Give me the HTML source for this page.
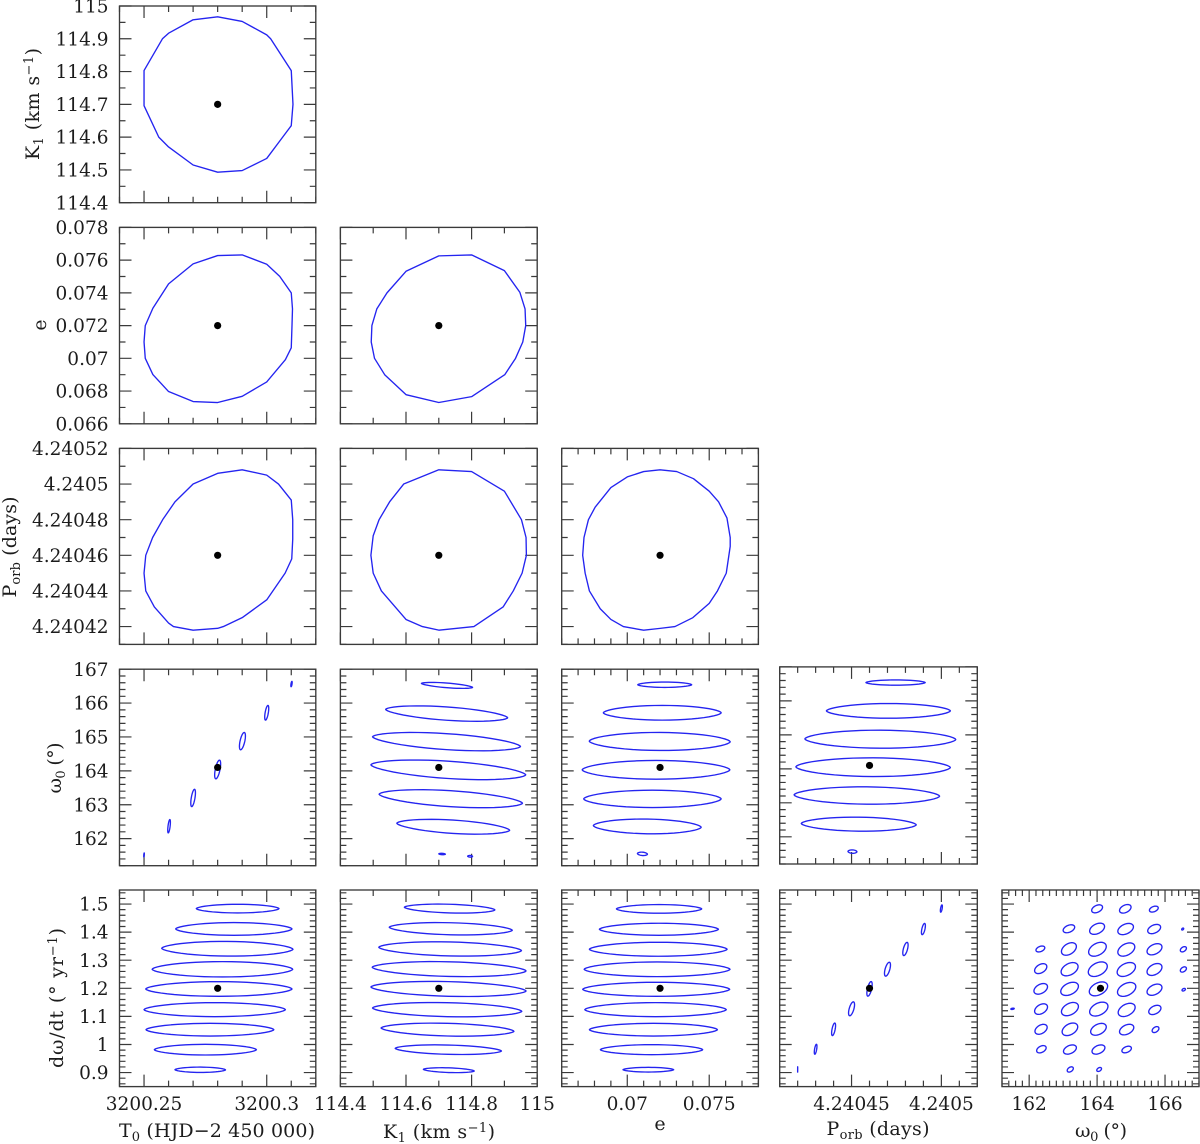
<!DOCTYPE html>
<html lang="en">
<head>
<meta charset="utf-8">
<title>Orbital parameter confidence contours</title>
<style>
html,body{margin:0;padding:0;background:#fff}
svg{display:block}
text{font-family:"DejaVu Serif","Liberation Serif",serif;font-size:18.5px;fill:#1c1c1c}
.title{font-size:19px}
.sub{font-size:13px}
</style>
</head>
<body>
<svg id="chart" width="1200" height="1144" viewBox="0 0 1200 1144" xmlns="http://www.w3.org/2000/svg">
  <g id="panels"></g>
  <text class="title" x="217" y="1137" text-anchor="middle" textLength="196">T<tspan class="sub" dy="4">0</tspan><tspan dy="-4"> (HJD−2 450 000)</tspan></text>
  <text class="title" x="439" y="1138" text-anchor="middle" textLength="112">K<tspan class="sub" dy="4">1</tspan><tspan dy="-4"> (km s</tspan><tspan class="sub" dy="-6">−1</tspan><tspan dy="6">)</tspan></text>
  <text class="title" x="660" y="1130" text-anchor="middle">e</text>
  <text class="title" x="878" y="1135" text-anchor="middle" textLength="103">P<tspan class="sub" dy="4">orb</tspan><tspan dy="-4"> (days)</tspan></text>
  <text class="title" x="1101" y="1137" text-anchor="middle" textLength="52">ω<tspan class="sub" dy="4">0</tspan><tspan dy="-4"> (°)</tspan></text>
  <text class="title" transform="translate(39,104) rotate(-90)" text-anchor="middle" textLength="112">K<tspan class="sub" dy="4">1</tspan><tspan dy="-4"> (km s</tspan><tspan class="sub" dy="-6">−1</tspan><tspan dy="6">)</tspan></text>
  <text class="title" transform="translate(46,325) rotate(-90)" text-anchor="middle">e</text>
  <text class="title" transform="translate(16,547) rotate(-90)" text-anchor="middle" textLength="101">P<tspan class="sub" dy="4">orb</tspan><tspan dy="-4"> (days)</tspan></text>
  <text class="title" transform="translate(61,768) rotate(-90)" text-anchor="middle" textLength="51">ω<tspan class="sub" dy="4">0</tspan><tspan dy="-4"> (°)</tspan></text>
  <text class="title" transform="translate(63,998) rotate(-90)" text-anchor="middle" textLength="140">dω/dt (° yr<tspan class="sub" dy="-6">−1</tspan><tspan dy="6">)</tspan></text>
</svg>
<script>
// Tick labels
const t0TickValues = [3200.25, 3200.3];
const t0TickLabels = ["3200.25", "3200.3"];
const k1XTickValues = [114.4, 114.6, 114.8, 115];
const k1XTickLabels = ["114.4", "114.6", "114.8", "115"];
const eXTickValues = [0.07, 0.075];
const eXTickLabels = ["0.07", "0.075"];
const porbXTickValues = [4.24045, 4.2405];
const porbXTickLabels = ["4.24045", "4.2405"];
const omegaXTickValues = [162, 164, 166];
const omegaXTickLabels = ["162", "164", "166"];
const k1YTickValues = [114.4, 114.5, 114.6, 114.7, 114.8, 114.9, 115];
const k1YTickLabels = ["114.4", "114.5", "114.6", "114.7", "114.8", "114.9", "115"];
const eYTickValues = [0.066, 0.068, 0.07, 0.072, 0.074, 0.076, 0.078];
const eYTickLabels = ["0.066", "0.068", "0.07", "0.072", "0.074", "0.076", "0.078"];
const porbYTickValues = [4.24042, 4.24044, 4.24046, 4.24048, 4.2405, 4.24052];
const porbYTickLabels = ["4.24042", "4.24044", "4.24046", "4.24048", "4.2405", "4.24052"];
const omegaYTickValues = [162, 163, 164, 165, 166, 167];
const omegaYTickLabels = ["162", "163", "164", "165", "166", "167"];
const omegaDotTickValues = [0.9, 1, 1.1, 1.2, 1.3, 1.4, 1.5];
const omegaDotTickLabels = ["0.9", "1", "1.1", "1.2", "1.3", "1.4", "1.5"];

// Best-fit solution values
const bestT0 = 3200.28;
const bestK1 = 114.7;
const bestE = 0.072;
const bestPorb = 4.24046;
const bestOmega = 164.1;
const bestOmegaDot = 1.2;

// Closed contours: [x, y] vertices
const k1VsT0 = [[3200.31,114.803],[3200.3107,114.7],[3200.31,114.635],[3200.3065,114.6],[3200.30,114.535],[3200.29,114.498],[3200.28,114.493],[3200.27,114.515],[3200.26,114.57],[3200.256,114.6],[3200.25,114.696],[3200.25,114.803],[3200.2575,114.9],[3200.26,114.917],[3200.27,114.958],[3200.28,114.967],[3200.29,114.953],[3200.30,114.912],[3200.3016,114.9]];
const eVsT0 = [[3200.31,0.074],[3200.3105,0.07302],[3200.3103,0.072],[3200.31,0.07064],[3200.3076,0.06992],[3200.30,0.06856],[3200.29,0.06768],[3200.28,0.0673],[3200.27,0.06736],[3200.26,0.06797],[3200.2536,0.06901],[3200.2505,0.07],[3200.25,0.071],[3200.2505,0.072],[3200.2536,0.07306],[3200.26,0.07455],[3200.27,0.07577],[3200.28,0.07628],[3200.29,0.07632],[3200.30,0.07575],[3200.3053,0.07501]];
const eVsK1 = [[114.7,0.07626],[114.8,0.07632],[114.9,0.07536],[114.947,0.07404],[114.963,0.07302],[114.965,0.072],[114.956,0.071],[114.934,0.07],[114.901,0.069],[114.8,0.06766],[114.7,0.0673],[114.6,0.06778],[114.535,0.069],[114.504,0.07],[114.494,0.071],[114.496,0.072],[114.511,0.07302],[114.542,0.074],[114.6,0.07532]];
const porbVsT0 = [[3200.28,4.240506],[3200.29,4.240508],[3200.30,4.240505],[3200.3048,4.2405],[3200.31,4.240491],[3200.3106,4.24048],[3200.3106,4.240469],[3200.3102,4.240458],[3200.3075,4.24045],[3200.30,4.240435],[3200.29,4.240425],[3200.2823,4.24042],[3200.28,4.240419],[3200.27,4.240418],[3200.262,4.24042],[3200.26,4.240422],[3200.2542,4.240431],[3200.2507,4.24044],[3200.25,4.24045],[3200.2507,4.24046],[3200.2535,4.24047],[3200.2576,4.24048],[3200.2626,4.24049],[3200.27,4.2405]];
const porbVsK1 = [[114.7,4.240508],[114.8,4.240507],[114.9,4.240496],[114.952,4.24048],[114.966,4.24047],[114.967,4.24046],[114.954,4.24045],[114.927,4.24044],[114.896,4.240431],[114.807,4.24042],[114.7,4.240418],[114.65,4.24042],[114.6,4.240424],[114.525,4.24044],[114.5,4.24045],[114.493,4.24046],[114.5,4.240471],[114.518,4.24048],[114.55,4.24049],[114.593,4.2405]];
const porbVsE = [[0.072,4.240508],[0.07302,4.240507],[0.07404,4.240503],[0.075,4.240496],[0.07557,4.24049],[0.07608,4.240481],[0.07628,4.24047],[0.07628,4.240465],[0.07604,4.24045],[0.0755,4.24044],[0.075,4.240433],[0.074,4.240425],[0.07291,4.24042],[0.072,4.240419],[0.071,4.240418],[0.06976,4.24042],[0.069,4.240424],[0.06835,4.24043],[0.06769,4.24044],[0.06743,4.24045],[0.06728,4.24046],[0.06736,4.24047],[0.06763,4.24048],[0.06804,4.240487],[0.069,4.240498],[0.07,4.240504],[0.071,4.240507]];

// Stripe contours: [xLeft, yLeft, xRight, yRight, halfThicknessY]
const omegaVsK1 = [[114.647,166.581,114.803,166.463,0.069],[114.538,165.813,114.91,165.567,0.197],[114.498,165.005,114.949,164.719,0.236],[114.493,164.177,114.965,163.882,0.256],[114.518,163.31,114.955,163.044,0.236],[114.572,162.453,114.916,162.246,0.197],[114.7,161.55,114.72,161.54,0.02],[114.788,161.48,114.803,161.475,0.025]];
const omegaVsE = [[0.07064,166.542,0.07393,166.542,0.079],[0.06854,165.714,0.07573,165.714,0.217],[0.06768,164.877,0.07628,164.857,0.266],[0.06725,164.03,0.07626,164.03,0.276],[0.06734,163.172,0.07573,163.172,0.256],[0.06793,162.384,0.07451,162.335,0.217],[0.07062,161.56,0.07123,161.54,0.05]];
const omegaVsPorb = [[4.240458,166.539,4.240491,166.539,0.078],[4.240436,165.706,4.240505,165.706,0.216],[4.240424,164.882,4.240508,164.863,0.265],[4.240419,164.059,4.240505,164.039,0.275],[4.240418,163.235,4.240499,163.196,0.255],[4.240422,162.392,4.240486,162.353,0.206],[4.240448,161.57,4.240453,161.56,0.05]];
const omegaDotVsT0 = [[3200.2713,1.4838,3200.305,1.4838,0.0154],[3200.2629,1.4114,3200.3103,1.4114,0.0226],[3200.2572,1.3425,3200.3107,1.339,0.0261],[3200.2533,1.2677,3200.3106,1.2677,0.0273],[3200.2507,1.1976,3200.3103,1.1976,0.0261],[3200.25,1.124,3200.3076,1.124,0.0249],[3200.2508,1.0527,3200.3029,1.0527,0.0226],[3200.2542,0.9815,3200.2958,0.9815,0.019],[3200.2626,0.9102,3200.2832,0.9096,0.0095]];
const omegaDotVsK1 = [[114.595,1.4886,114.871,1.4791,0.0154],[114.549,1.4173,114.924,1.4067,0.0214],[114.517,1.3461,114.952,1.3342,0.0249],[114.497,1.2748,114.966,1.2618,0.0261],[114.493,1.2048,114.966,1.1905,0.0261],[114.498,1.1299,114.953,1.118,0.0249],[114.524,1.0587,114.929,1.0468,0.0226],[114.567,0.9862,114.891,0.9767,0.0166],[114.653,0.9114,114.808,0.9055,0.0083]];
const omegaDotVsE = [[0.06934,1.4827,0.07454,1.4827,0.0154],[0.0683,1.4102,0.07556,1.4102,0.0214],[0.06769,1.339,0.07609,1.339,0.0249],[0.06737,1.2677,0.07627,1.2677,0.0261],[0.06728,1.1964,0.07625,1.1964,0.025],[0.06741,1.124,0.07604,1.124,0.025],[0.06769,1.0527,0.0755,1.0527,0.0226],[0.06836,0.9815,0.0746,0.9815,0.0178],[0.06974,0.9102,0.07283,0.9102,0.0083]];

// Tilted ellipse contours: [centerX, centerY, halfWidthX, halfHeightY]
const omegaVsT0 = [[3200.25,161.517,0.00012,0.06],[3200.2602,162.365,0.00054,0.197],[3200.27,163.2,0.00095,0.256],[3200.28,164.04,0.00122,0.276],[3200.2901,164.877,0.00122,0.256],[3200.30,165.714,0.00082,0.217],[3200.3101,166.562,0.00027,0.079]];
const omegaDotVsPorb = [[4.24042,0.911,0.000000015,0.0094],[4.24043,0.983,0.00000074,0.0177],[4.24044,1.054,0.0000011,0.0224],[4.24045,1.127,0.00000167,0.0248],[4.24046,1.198,0.00000148,0.026],[4.24047,1.268,0.00000167,0.0248],[4.24048,1.34,0.00000148,0.0236],[4.24049,1.411,0.0000011,0.02],[4.2405,1.484,0.00000056,0.013]];
const omegaDotVsOmega = [
[164,1.483,0.16,0.0142],[164.83,1.483,0.17,0.0153],[165.67,1.482,0.13,0.0106],
[163.17,1.412,0.17,0.0142],[164,1.412,0.22,0.02],[164.84,1.411,0.23,0.02],[165.68,1.411,0.19,0.0165],[166.52,1.411,0.03,0.0035],
[162.33,1.34,0.13,0.0106],[163.17,1.34,0.22,0.0224],[164.01,1.339,0.26,0.0248],[164.86,1.338,0.25,0.0236],[165.69,1.339,0.22,0.02],[166.54,1.339,0.09,0.0094],
[162.34,1.27,0.18,0.0177],[163.19,1.268,0.25,0.0236],[164.02,1.268,0.28,0.026],[164.86,1.267,0.27,0.0248],[165.69,1.267,0.22,0.0212],[166.54,1.267,0.09,0.0094],
[162.34,1.198,0.2,0.0189],[163.19,1.198,0.26,0.0236],[164.04,1.198,0.27,0.0248],[164.87,1.196,0.27,0.0248],[165.69,1.195,0.22,0.02],[166.55,1.195,0.05,0.0047],
[162.35,1.126,0.19,0.0189],[163.2,1.126,0.25,0.0236],[164.05,1.126,0.27,0.0248],[164.87,1.123,0.25,0.0236],[165.7,1.123,0.18,0.0165],
[162.35,1.054,0.18,0.0177],[163.2,1.054,0.23,0.0224],[164.04,1.054,0.23,0.0212],[164.87,1.053,0.21,0.0189],[165.72,1.053,0.1,0.0106],
[162.36,0.983,0.14,0.013],[163.2,0.982,0.19,0.0165],[164.04,0.982,0.19,0.0165],[164.87,0.982,0.14,0.0118],
[163.21,0.911,0.09,0.0094],[164.06,0.911,0.07,0.0071],
[161.51,1.127,0.05,0.0024]];

const NS = 'http://www.w3.org/2000/svg';
const BLUE = '#2424f0';
const AXIS = '#3a3a3a';
const panelsRoot = document.getElementById('panels');

// Pixel frames
const colFrames = [[119.5,315.8],[340.4,537.2],[561.7,758.4],[779.7,977.3],[1002,1199]];
const rowFrames = [[6,202.7],[227.4,423.8],[448.4,644.4],[669.2,865.7],[890,1086.6]];
const rowFrameCol3Row3 = [666.9,864];

const xScales = [
 {name:'t0',lo:3200.24,hi:3200.32,minor:0.01,major:0.05,values:t0TickValues,labels:t0TickLabels},
 {name:'k1',lo:114.4,hi:115,minor:0.1,major:0.2,values:k1XTickValues,labels:k1XTickLabels},
 {name:'e',lo:0.066,hi:0.078,minor:0.001,major:0.005,values:eXTickValues,labels:eXTickLabels},
 {name:'porb',lo:4.24041,hi:4.24052,minor:0.00001,major:0.00005,values:porbXTickValues,labels:porbXTickLabels},
 {name:'omega',lo:161.2,hi:167,minor:0.2,major:2,values:omegaXTickValues,labels:omegaXTickLabels}
];
const yScales = [
 {name:'k1',lo:114.4,hi:115,minor:0.05,major:0.1,values:k1YTickValues,labels:k1YTickLabels},
 {name:'e',lo:0.066,hi:0.078,minor:0.001,major:0.002,values:eYTickValues,labels:eYTickLabels},
 {name:'porb',lo:4.24041,hi:4.24052,minor:0.00001,major:0.00002,values:porbYTickValues,labels:porbYTickLabels},
 {name:'omega',lo:161.2,hi:167,minor:0.2,major:1,values:omegaYTickValues,labels:omegaYTickLabels},
 {name:'omega-dot',lo:0.85,hi:1.55,minor:0.02,major:0.1,values:omegaDotTickValues,labels:omegaDotTickLabels}
];

const panelDefs = [
 {c:0,r:0,poly:k1VsT0,pt:[bestT0,bestK1]},
 {c:0,r:1,poly:eVsT0,pt:[bestT0,bestE]},
 {c:1,r:1,poly:eVsK1,pt:[bestK1,bestE]},
 {c:0,r:2,poly:porbVsT0,pt:[bestT0,bestPorb]},
 {c:1,r:2,poly:porbVsK1,pt:[bestK1,bestPorb]},
 {c:2,r:2,poly:porbVsE,pt:[bestE,bestPorb]},
 {c:0,r:3,ell:omegaVsT0,corr:0.6,pt:[bestT0,bestOmega]},
 {c:1,r:3,stripes:omegaVsK1,pt:[bestK1,bestOmega]},
 {c:2,r:3,stripes:omegaVsE,pt:[bestE,bestOmega]},
 {c:3,r:3,stripes:omegaVsPorb,pt:[bestPorb,bestOmega]},
 {c:0,r:4,stripes:omegaDotVsT0,pt:[bestT0,bestOmegaDot]},
 {c:1,r:4,stripes:omegaDotVsK1,pt:[bestK1,bestOmegaDot]},
 {c:2,r:4,stripes:omegaDotVsE,pt:[bestE,bestOmegaDot]},
 {c:3,r:4,ell:omegaDotVsPorb,corr:0.6,pt:[bestPorb,bestOmegaDot]},
 {c:4,r:4,ell:omegaDotVsOmega,corr:0.4,pt:[bestOmega,bestOmegaDot]}
];

function axisX(scale, frame, v){ return frame[0] + (v - scale.lo) / (scale.hi - scale.lo) * (frame[1] - frame[0]); }
function axisY(scale, frame, v){ return frame[1] - (v - scale.lo) / (scale.hi - scale.lo) * (frame[1] - frame[0]); }
function make(tag, attrs, parent){
  const el = document.createElementNS(NS, tag);
  for (const k in attrs) el.setAttribute(k, attrs[k]);
  parent.appendChild(el);
  return el;
}
function tickValues(scale){
  const out = [];
  const first = Math.ceil(scale.lo / scale.minor - 1e-6);
  const last = Math.floor(scale.hi / scale.minor + 1e-6);
  for (let i = first; i <= last; i++) {
    const v = i * scale.minor;
    const q = v / scale.major;
    out.push({v: v, major: Math.abs(q - Math.round(q)) < 1e-4});
  }
  return out;
}
function stripePoints(s){
  const pts = [];
  const mx = (s[0] + s[2]) / 2, my = (s[1] + s[3]) / 2, dx = (s[2] - s[0]) / 2, dy = (s[3] - s[1]) / 2;
  for (let i = 0; i < 48; i++) {
    const t = i / 48 * 2 * Math.PI, sn = Math.sin(t);
    pts.push([mx + dx * Math.cos(t), my + dy * Math.cos(t) + s[4] * Math.sign(sn) * Math.pow(Math.abs(sn), 1.2)]);
  }
  return pts;
}
function ellipsePoints(e, k){
  const pts = [];
  for (let i = 0; i < 36; i++) {
    const t = i / 36 * 2 * Math.PI;
    pts.push([e[0] + e[2] * Math.cos(t), e[1] + e[3] * (k * Math.cos(t) + Math.sqrt(1 - k * k) * Math.sin(t))]);
  }
  return pts;
}

panelDefs.forEach(function(p){
  const xs = xScales[p.c], ys = yScales[p.r];
  const fx = colFrames[p.c];
  const fy = (p.c === 3 && p.r === 3) ? rowFrameCol3Row3 : rowFrames[p.r];
  const g = make('g', {}, panelsRoot);
  
  

  const frame = make('rect', {x:fx[0], y:fy[0], width:fx[1]-fx[0], height:fy[1]-fy[0], fill:'#fff', stroke:AXIS, 'stroke-width':1.35}, g);
  
  

  let d = '';
  tickValues(xs).forEach(function(t){
    const x = axisX(xs, fx, t.v).toFixed(2), len = t.major ? 12 : 6;
    d += 'M' + x + ' ' + fy[1] + 'v' + (-len) + 'M' + x + ' ' + fy[0] + 'v' + len;
  });
  tickValues(ys).forEach(function(t){
    const y = axisY(ys, fy, t.v).toFixed(2), len = t.major ? 12 : 6;
    d += 'M' + fx[0] + ' ' + y + 'h' + len + 'M' + fx[1] + ' ' + y + 'h' + (-len);
  });
  const ticks = make('path', {d:d, fill:'none', stroke:AXIS, 'stroke-width':1.2}, g);
  
  

  const contours = [];
  if (p.poly) contours.push(p.poly);
  if (p.stripes) p.stripes.forEach(function(s){ contours.push(stripePoints(s)); });
  if (p.ell) p.ell.forEach(function(e){ contours.push(ellipsePoints(e, p.corr)); });
  contours.forEach(function(pts){
    const str = pts.map(function(q){ return axisX(xs, fx, q[0]).toFixed(2) + ',' + axisY(ys, fy, q[1]).toFixed(2); }).join(' ');
    const c = make('polygon', {points:str, fill:'none', stroke:BLUE, 'stroke-width':1.35, 'stroke-linejoin':'round'}, g);
    
    
  });

  const dot = make('circle', {cx:axisX(xs, fx, p.pt[0]), cy:axisY(ys, fy, p.pt[1]), r:3.6, fill:'#000'}, g);
  
  

  if (p.c === 0) {
    ys.values.forEach(function(v, i){
      const t = make('text', {x:108.5, y:(axisY(ys, fy, v) + 6.6).toFixed(2), 'text-anchor':'end'}, g);
      t.textContent = ys.labels[i];
      
      
    });
  }
  if (p.r === 4) {
    xs.values.forEach(function(v, i){
      const t = make('text', {x:axisX(xs, fx, v).toFixed(2), y:1110, 'text-anchor':'middle'}, g);
      t.textContent = xs.labels[i];
      
      
    });
  }
});
</script>
</body>
</html>
